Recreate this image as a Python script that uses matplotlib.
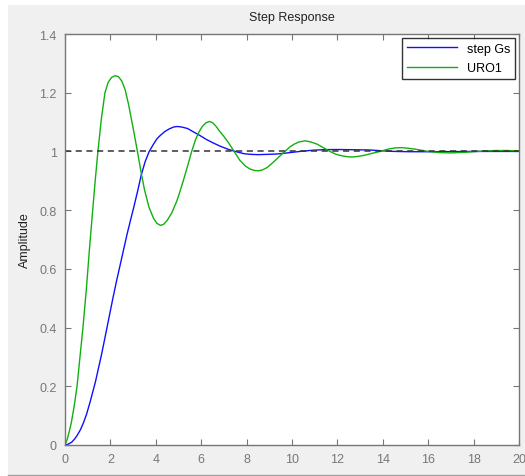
import matplotlib
matplotlib.use("Agg")
import matplotlib.pyplot as plt
from matplotlib.patches import Rectangle

plt.rcParams['font.family'] = ['Liberation Sans', 'DejaVu Sans']

# step Gs (blue)
t_gs = [0, 0.15, 0.3, 0.42, 0.53, 0.68, 0.82, 0.95, 1.1, 1.22, 1.34, 1.47, 1.6, 1.72,
        1.85, 1.98, 2.11, 2.26, 2.42, 2.58, 2.74, 2.9, 3.03, 3.2, 3.36, 3.53, 3.71,
        3.9, 4.05, 4.19, 4.4, 4.6, 4.78, 4.95, 5.15, 5.4, 5.65, 5.95, 6.2, 6.5, 6.83,
        7.2, 7.5, 7.9, 8.2, 8.5, 8.9, 9.3, 9.8, 10.35, 10.9, 11.4, 12.0, 12.5, 13.4,
        14.0, 14.5, 15.2, 16, 17, 18, 20]
y_gs = [0, 0.003, 0.01, 0.02, 0.032, 0.052, 0.077, 0.105, 0.145, 0.18, 0.215, 0.26, 0.305, 0.35,
        0.40, 0.45, 0.50, 0.555, 0.61, 0.665, 0.72, 0.77, 0.81, 0.865, 0.92, 0.965, 1.0,
        1.025, 1.043, 1.054, 1.068, 1.077, 1.083, 1.085, 1.083, 1.078, 1.067, 1.054, 1.042, 1.03, 1.018,
        1.007, 1.0, 0.992, 0.99, 0.989, 0.99, 0.991, 0.995, 1.0, 1.004, 1.006, 1.0065, 1.006, 1.005,
        1.002, 1.0, 0.999, 0.999, 0.9995, 1.0, 1.0]

# URO1 (green)
t_uro = [0, 0.1, 0.2, 0.28, 0.4, 0.53, 0.66, 0.79, 0.94, 1.08, 1.22, 1.33, 1.45, 1.6,
         1.76, 1.9, 2.05, 2.2, 2.35, 2.5, 2.65, 2.8, 3.0, 3.19, 3.35, 3.5, 3.7, 3.9,
         4.05, 4.21, 4.35, 4.5, 4.7, 4.92, 5.05, 5.21, 5.4, 5.58, 5.75, 5.9, 6.05, 6.2,
         6.36, 6.5, 6.65, 6.8, 6.97, 7.2, 7.45, 7.7, 7.95, 8.15, 8.35, 8.52, 8.7, 8.9,
         9.1, 9.3, 9.5, 9.69, 9.9, 10.1, 10.3, 10.57, 10.8, 11.1, 11.4, 11.67, 11.95,
         12.2, 12.45, 12.65, 12.9, 13.2, 13.5, 13.88, 14.1, 14.3, 14.55, 14.83, 15.1,
         15.4, 15.7, 16.0, 16.5, 17.0, 17.6, 18.2, 18.6, 19.0, 19.5, 20]
y_uro = [0, 0.02, 0.05, 0.077, 0.13, 0.20, 0.30, 0.40, 0.53, 0.67, 0.80, 0.90, 1.0, 1.11,
         1.20, 1.235, 1.252, 1.258, 1.255, 1.24, 1.21, 1.16, 1.08, 1.0, 0.93, 0.87, 0.81, 0.772,
         0.755, 0.748, 0.752, 0.765, 0.79, 0.83, 0.86, 0.9, 0.95, 1.0, 1.04, 1.066, 1.085, 1.097,
         1.102, 1.098, 1.086, 1.07, 1.054, 1.03, 1.0, 0.97, 0.95, 0.94, 0.935, 0.934, 0.937, 0.945,
         0.958, 0.972, 0.987, 1.0, 1.015, 1.025, 1.032, 1.036, 1.033, 1.025, 1.012, 1.0, 0.99,
         0.985, 0.982, 0.981, 0.983, 0.987, 0.993, 1.0, 1.005, 1.009, 1.012, 1.013, 1.011,
         1.008, 1.004, 1.0, 0.996, 0.995, 0.997, 1.0, 1.002, 1.003, 1.003, 1.002]

xticks = list(range(0, 21, 2))
yticks = [0, 0.2, 0.4, 0.6, 0.8, 1, 1.2, 1.4]
ytick_labels = ['0', '0.2', '0.4', '0.6', '0.8', '1', '1.2', '1.4']

fig = plt.figure(figsize=(5.25, 4.77), dpi=100)
fig.patch.set_facecolor('white')
# grey window area
fig.patches.append(Rectangle((8 / 525, 1 / 477), 1, 1 - 7 / 477, transform=fig.transFigure,
                             facecolor='#f0f0f0', edgecolor='none', zorder=-10))
fig.lines.append(plt.Line2D([8 / 525, 1], [1.5 / 477, 1.5 / 477], transform=fig.transFigure,
                            color='#a0a0a0', lw=1))

ax = fig.add_axes([65 / 525, 1 - 446 / 477, 454 / 525, 411 / 477])
ax.set_facecolor('white')

ax.plot(t_gs, y_gs, color='#1010ff', lw=1.0, label='step Gs')
ax.plot(t_uro, y_uro, color='#10b010', lw=1.0, label='URO1')
ax.axhline(1, color='#333333', ls=(0, (4, 3)), lw=1.1)

ax.set_xlim(0, 20)
ax.set_ylim(0, 1.4)
ax.set_xticks(xticks)
ax.set_yticks(yticks)
ax.set_yticklabels(ytick_labels)
ax.tick_params(direction='in', top=True, right=True, length=4, width=0.8,
               colors='#777777', labelsize=9, pad=6)
for s in ax.spines.values():
    s.set_color('#777777')
    s.set_linewidth(1)

ax.set_title('Step Response', fontsize=9, color='#222222', pad=10)
ax.set_ylabel('Amplitude', fontsize=9, color='#222222', labelpad=6)
ax.set_xlabel('Time (seconds)', fontsize=9, color='#222222', labelpad=10)

leg = ax.legend(loc='upper right', fontsize=9, frameon=True, fancybox=False,
                handlelength=4, borderaxespad=0.3, labelspacing=0.6)
leg.get_frame().set_edgecolor('black')
leg.get_frame().set_linewidth(1)

fig.savefig('out.png', dpi=100, facecolor=fig.get_facecolor())
